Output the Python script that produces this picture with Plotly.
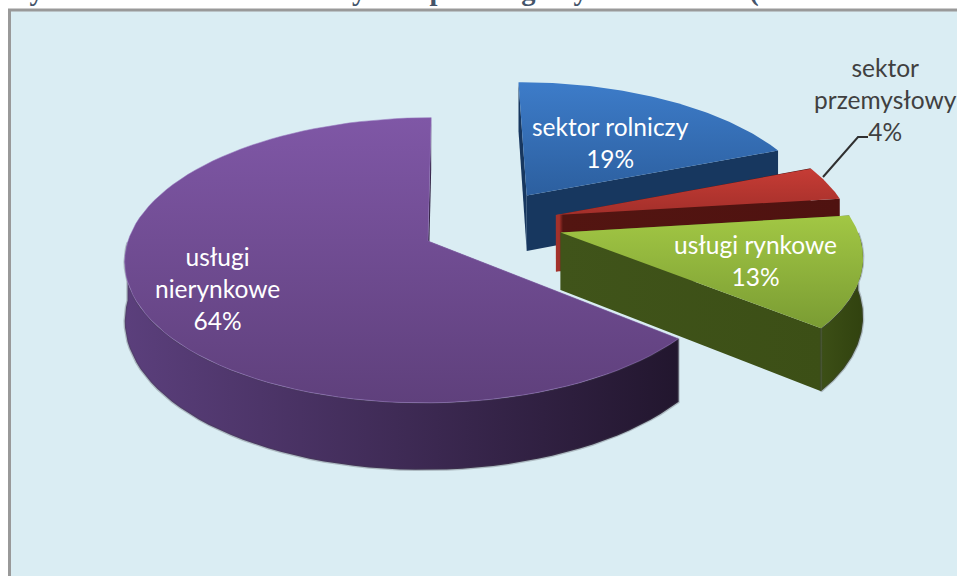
import numpy as np
import plotly.graph_objects as go

title = "Wykres 6. Udział zatrudnionych w poszczególnych sektorach (bez rolnictwa in"
categories = ["sektor rolniczy", "sektor<br>przemysłowy", "usługi rynkowe", "usługi<br>nierynkowe"]
shares = [19, 4, 13, 64]

# projection of the tilted pie onto the page (pixels)
OX, OY = 455, 241
RX, RY = 300, 140
PERSP = 0.135
DEPTH = 58

# per slice: how far it is pulled out, in pie radii
explode = [(0.25, 0.34), (0.345, 0.19), (0.355, 0.062), (-0.09, 0.0)]
top_colors = [("#3d7cc9", "#2c5f9f"), ("#c63c35", "#a32f2a"), ("#a2c744", "#7a9c33"), ("#7f57a6", "#5f407c")]
rim_colors = ["rgba(0,0,0,0)", "rgba(0,0,0,0)", "rgba(0,0,0,0)", "rgba(150,118,190,0.55)"]
end_scales = [
    [[0, "#17375f"], [1, "#17375f"]],
    [[0, "#a3312b"], [0.012, "#a3312b"], [0.025, "#531511"], [1, "#4f1210"]],
    [[0, "#40541a"], [1, "#3c4f16"]],
    [[0, "#2f2040"], [1, "#2f2040"]],
]
outer_scales = [
    [[0, "#1c4474"], [1, "#17375f"]],
    [[0, "#6a1a16"], [1, "#531511"]],
    [[0, "#3c4f16"], [1, "#31420f"]],
    [[0, "#5b3f7c"], [1, "#22162e"]],
]
label_pos = [(610, 142), (885, 99), (755, 260), (217, 288)]
label_colors = ["white", "#404040", "white", "white"]
FONT = "Lato"


def project(x, y, drop=0.0):
    s = 1 / (1 + PERSP * y)
    return OX + RX * x * s, OY - RY * y * s + drop * DEPTH * s


def wall(xs, ys):
    # band between a top edge and the same edge pushed down by the pie depth
    px, py = project(xs, ys)
    qx, qy = project(xs, ys, 1)
    return np.r_[px, qx[::-1], px[0]], np.r_[py, qy[::-1], py[0]]


def face(x, y, gradient_type, scale, line="rgba(0,0,0,0)", width=1):
    return go.Scatter(
        x=x, y=y, mode="lines", fill="toself", hoverinfo="skip", showlegend=False,
        line=dict(color=line, width=width),
        fillgradient=dict(type=gradient_type, colorscale=scale),
    )


fig = go.Figure()

edges = np.cumsum([0] + shares) / sum(shares) * 2 * np.pi
for i in range(len(shares)):
    a = np.linspace(edges[i], edges[i + 1], 90)
    ex, ey = explode[i]
    arc_x, arc_y = ex + np.sin(a), ey + np.cos(a)

    for k in (0, -1):
        edge_x = np.array([ex, arc_x[k]])
        edge_y = np.array([ey, arc_y[k]])
        fig.add_trace(face(*wall(edge_x, edge_y), "horizontal", end_scales[i]))
    # the rim only shows where it faces the viewer
    front = np.cos(a) <= 0
    if front.any():
        fig.add_trace(face(*wall(arc_x[front], arc_y[front]), "horizontal", outer_scales[i], "rgba(70,70,80,0.3)", 2.5))
    top_x, top_y = project(np.r_[ex, arc_x, ex], np.r_[ey, arc_y, ey])
    fig.add_trace(face(top_x, top_y, "vertical", [[0, top_colors[i][1]], [1, top_colors[i][0]]], rim_colors[i]))

    lx, ly = label_pos[i]
    fig.add_annotation(
        x=lx, y=ly, text=f"{categories[i]}<br>{shares[i]}%", showarrow=False,
        font=dict(family=FONT, size=24.5, color=label_colors[i]), align="center",
    )

# leader line of the small slice
fig.add_trace(go.Scatter(
    x=[823, 858, 868], y=[177, 137, 137], mode="lines", hoverinfo="skip", showlegend=False,
    line=dict(color="#303030", width=2),
))

fig.add_annotation(
    x=0, y=9, xref="x", yref="y", xanchor="left", yanchor="bottom", text=f"<b>{title}</b>",
    showarrow=False, font=dict(family="Liberation Serif", size=28.5, color="#44546a"),
)

fig.update_layout(
    width=957, height=576, margin=dict(l=0, r=0, t=0, b=0),
    paper_bgcolor="white", plot_bgcolor="white",
    xaxis=dict(range=[0, 957], visible=False, fixedrange=True),
    yaxis=dict(range=[576, 0], visible=False, fixedrange=True),
    shapes=[dict(type="rect", x0=9.5, y0=10, x1=980, y1=600, layer="below",
                 fillcolor="#daedf3", line=dict(color="#999999", width=3))],
)

fig.write_html("out.html", config=dict(displayModeBar=False),
               post_script="document.body.style.margin='0';")
